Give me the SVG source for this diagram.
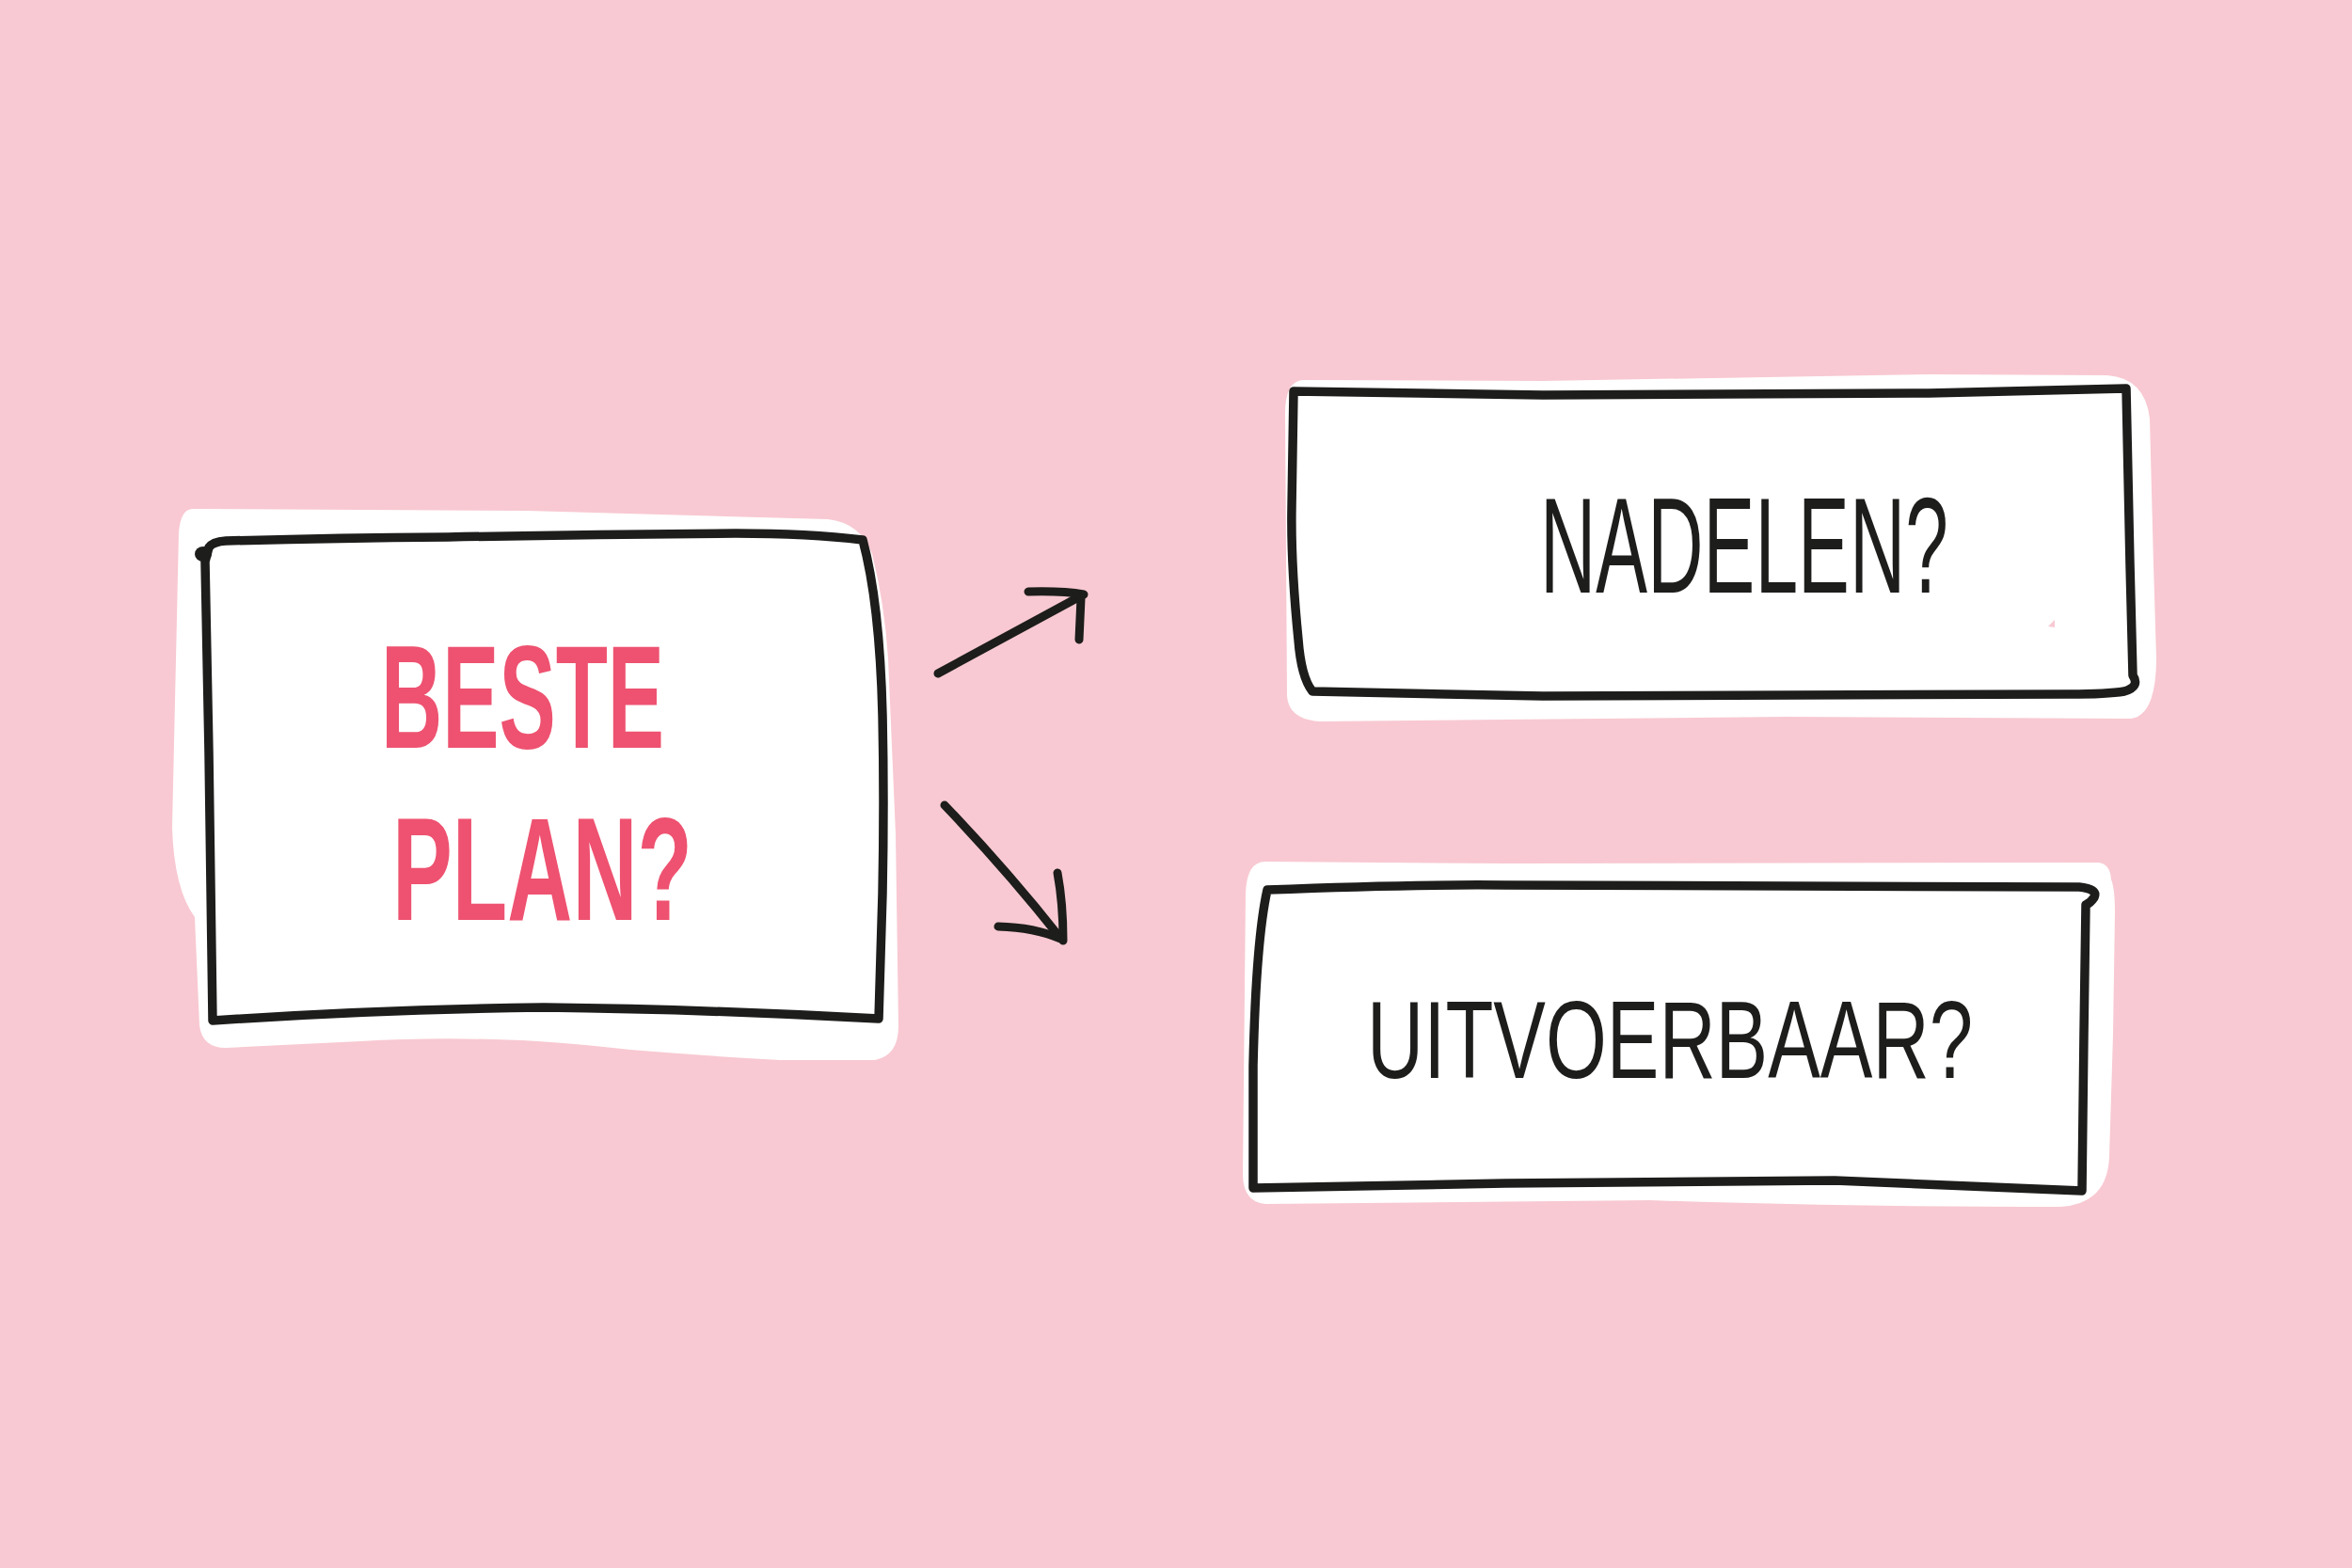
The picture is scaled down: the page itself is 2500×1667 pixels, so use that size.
<svg xmlns="http://www.w3.org/2000/svg" width="2500" height="1667" viewBox="0 0 2500 1667">
<style>
.bg{fill:#f8c9d2}
.back{fill:#ffffff;stroke:none}
.frame{fill:none;stroke:#1d1d1b;stroke-width:9.5;stroke-linejoin:round;stroke-linecap:round}
.pinktxt{font-family:"Liberation Sans","DejaVu Sans",sans-serif;font-weight:bold;fill:#ee5270}
.blacktxt{font-family:"Liberation Sans","DejaVu Sans",sans-serif;font-weight:normal;fill:#1d1d1b}
.arrow{fill:none;stroke:#1d1d1b;stroke-width:9;stroke-linecap:round;stroke-linejoin:round}
</style>
<rect class="bg" x="0" y="0" width="2500" height="1667"/>

<g id="node-beste-plan">
<path class="back" d="M 205,541 L 560,543 L 880,552 Q 915,556 927,589 Q 940,640 944,700 L 952,887 L 955,1091 Q 955,1122 930,1127 L 829,1127 Q 740,1122 670,1116 Q 580,1106 526,1105 Q 450,1103 383,1107 L 240,1114 Q 215,1114 212,1090 L 207,975 Q 185,945 183,880 L 190,566 Q 192,541 205,541 Z"/>
<path class="frame" d="M 222,582 Q 226,576 240,575 Q 350,572 476,571 Q 630,568 782,567 Q 860,567 917,574 Q 935,640 938,760 Q 940,850 938,950 L 934,1083 Q 750,1073 578,1071 Q 400,1073 226,1085 L 222,800 L 218,597 Z"/>
<ellipse cx="216" cy="589" rx="9" ry="8" fill="#1d1d1b"/>
<text class="pinktxt" x="405" y="795" font-size="156" textLength="301" lengthAdjust="spacingAndGlyphs">BESTE</text>
<text class="pinktxt" x="417" y="978" font-size="156" textLength="319" lengthAdjust="spacingAndGlyphs">PLAN?</text>
</g>

<g id="node-nadelen">
<path class="back" d="M 1385,404 L 1640,405 L 2050,398 L 2240,399 Q 2280,402 2285,445 L 2289,600 L 2292,700 Q 2292,760 2265,764 L 1900,762 L 1403,767 Q 1370,765 1368,740 L 1366,440 Q 1366,405 1385,404 Z"/>
<path class="frame" d="M 1375,416 L 1640,420 L 2050,418 L 2260,413 L 2264,600 L 2267,718 Q 2275,730 2258,735 Q 2240,738 2200,738 L 1640,740 L 1395,735 Q 1383,720 1380,680 Q 1372,600 1373,540 Z"/>
<polygon points="2177,666 2184,659 2184,667" fill="#f8c9d2"/>
<text class="blacktxt" x="1637" y="630" font-size="145" textLength="434" lengthAdjust="spacingAndGlyphs">NADELEN?</text>
</g>

<g id="node-uitvoerbaar">
<path class="back" d="M 1345,916 L 1600,918 L 2230,917 Q 2243,918 2244,935 Q 2248,945 2248,970 L 2246,1100 L 2242,1230 Q 2240,1280 2190,1283 Q 1950,1283 1754,1276 L 1345,1280 Q 1322,1278 1321,1250 L 1323,1050 L 1324,950 Q 1325,916 1345,916 Z"/>
<path class="frame" d="M 1347,946 Q 1500,940 1600,941 L 2210,943 Q 2230,945 2226,954 Q 2222,960 2217,962 L 2215,1100 L 2213,1266 L 1950,1255 L 1600,1258 L 1332,1263 L 1332,1133 Q 1335,1000 1347,946 Z"/>
<text class="blacktxt" x="1453" y="1146" font-size="116" textLength="644" lengthAdjust="spacingAndGlyphs">UITVOERBAAR?</text>
</g>

<g id="connectors">
<g id="arrow-to-nadelen">
<path class="arrow" d="M 997,716 L 1150,633"/>
<path class="arrow" d="M 1093,629 Q 1130,628 1152,632"/>
<path class="arrow" d="M 1149,636 L 1147,680"/>
</g>
<g id="arrow-to-uitvoerbaar">
<path class="arrow" d="M 1004,856 Q 1070,925 1127,997"/>
<path class="arrow" d="M 1124,928 Q 1130,960 1130,1000"/>
<path class="arrow" d="M 1061,985 Q 1100,986 1127,998"/>
</g>
</g>
</svg>
